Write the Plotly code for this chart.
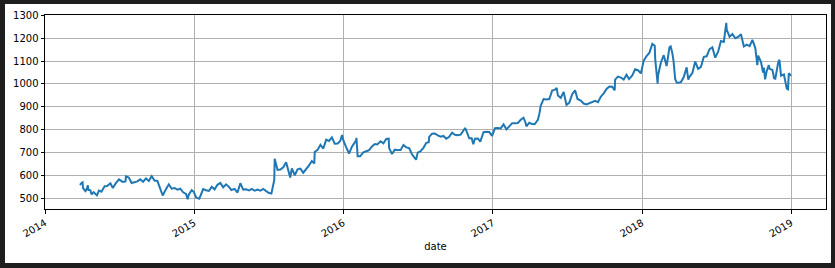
import plotly.graph_objects as go

dates = [
    "2014-03-27", "2014-03-28", "2014-04-01", "2014-04-03", "2014-04-04", "2014-04-07", "2014-04-10",
    "2014-04-11", "2014-04-14", "2014-04-16", "2014-04-17", "2014-04-22", "2014-04-25", "2014-04-30",
    "2014-05-06", "2014-05-08", "2014-05-13", "2014-05-19", "2014-05-27", "2014-06-02", "2014-06-10",
    "2014-06-16", "2014-06-23", "2014-07-01", "2014-07-10", "2014-07-17", "2014-07-18", "2014-07-25",
    "2014-08-01", "2014-08-08", "2014-08-15", "2014-08-22", "2014-08-29", "2014-09-05", "2014-09-12",
    "2014-09-19", "2014-09-26", "2014-10-03", "2014-10-10", "2014-10-16", "2014-10-24", "2014-10-31",
    "2014-11-07", "2014-11-14", "2014-11-21", "2014-11-28", "2014-12-05", "2014-12-12", "2014-12-16",
    "2014-12-19", "2014-12-26", "2014-12-31",
    "2015-01-06", "2015-01-13", "2015-01-16", "2015-01-23", "2015-01-30", "2015-02-06", "2015-02-13",
    "2015-02-20", "2015-02-27", "2015-03-06", "2015-03-13", "2015-03-20", "2015-03-27", "2015-04-02",
    "2015-04-10", "2015-04-17", "2015-04-24", "2015-05-01", "2015-05-08", "2015-05-15", "2015-05-22",
    "2015-05-29", "2015-06-05", "2015-06-12", "2015-06-19", "2015-06-26", "2015-07-02", "2015-07-09",
    "2015-07-16", "2015-07-17", "2015-07-24", "2015-07-31", "2015-08-07", "2015-08-14", "2015-08-21",
    "2015-08-24", "2015-08-28", "2015-09-04", "2015-09-11", "2015-09-18", "2015-09-25", "2015-10-02",
    "2015-10-09", "2015-10-16", "2015-10-22", "2015-10-23", "2015-10-30", "2015-11-06", "2015-11-13",
    "2015-11-20", "2015-11-27", "2015-12-04", "2015-12-11", "2015-12-18", "2015-12-24", "2015-12-29",
    "2015-12-31",
    "2016-01-07", "2016-01-13", "2016-01-15", "2016-01-22", "2016-01-29", "2016-02-01", "2016-02-02",
    "2016-02-05", "2016-02-11", "2016-02-19", "2016-02-26", "2016-03-04", "2016-03-11", "2016-03-18",
    "2016-03-24", "2016-04-01", "2016-04-08", "2016-04-15", "2016-04-21", "2016-04-22", "2016-04-29",
    "2016-05-06", "2016-05-13", "2016-05-20", "2016-05-27", "2016-06-03", "2016-06-10", "2016-06-17",
    "2016-06-24", "2016-06-27", "2016-07-01", "2016-07-08", "2016-07-15", "2016-07-22", "2016-07-28",
    "2016-07-29", "2016-08-05", "2016-08-12", "2016-08-19", "2016-08-26", "2016-09-02", "2016-09-09",
    "2016-09-16", "2016-09-23", "2016-09-30", "2016-10-07", "2016-10-14", "2016-10-21", "2016-10-25",
    "2016-10-28", "2016-11-04", "2016-11-10", "2016-11-14", "2016-11-18", "2016-11-25", "2016-12-01",
    "2016-12-09", "2016-12-16", "2016-12-23", "2016-12-30",
    "2017-01-06", "2017-01-13", "2017-01-20", "2017-01-27", "2017-02-03", "2017-02-10", "2017-02-17",
    "2017-02-24", "2017-03-03", "2017-03-10", "2017-03-17", "2017-03-22", "2017-03-24", "2017-03-31",
    "2017-04-07", "2017-04-13", "2017-04-21", "2017-04-25", "2017-04-28", "2017-05-05", "2017-05-12",
    "2017-05-19", "2017-05-26", "2017-06-02", "2017-06-06", "2017-06-09", "2017-06-16", "2017-06-23",
    "2017-06-30", "2017-07-07", "2017-07-14", "2017-07-21", "2017-07-27", "2017-08-04", "2017-08-11",
    "2017-08-18", "2017-08-25", "2017-09-01", "2017-09-08", "2017-09-15", "2017-09-22", "2017-09-29",
    "2017-10-06", "2017-10-13", "2017-10-20", "2017-10-26", "2017-10-27", "2017-11-03", "2017-11-10",
    "2017-11-17", "2017-11-24", "2017-11-30", "2017-12-08", "2017-12-15", "2017-12-22", "2017-12-29",
    "2018-01-05", "2018-01-12", "2018-01-19", "2018-01-26", "2018-02-01", "2018-02-02", "2018-02-05",
    "2018-02-08", "2018-02-09", "2018-02-16", "2018-02-23", "2018-03-02", "2018-03-09", "2018-03-12",
    "2018-03-16", "2018-03-19", "2018-03-23", "2018-03-27", "2018-04-02", "2018-04-06", "2018-04-13",
    "2018-04-20", "2018-04-24", "2018-04-27", "2018-05-04", "2018-05-11", "2018-05-18", "2018-05-25",
    "2018-06-01", "2018-06-08", "2018-06-15", "2018-06-22", "2018-06-29", "2018-07-06", "2018-07-13",
    "2018-07-20", "2018-07-26", "2018-07-27", "2018-08-03", "2018-08-10", "2018-08-17", "2018-08-24",
    "2018-08-31", "2018-09-07", "2018-09-14", "2018-09-21", "2018-09-28", "2018-10-05", "2018-10-10",
    "2018-10-12", "2018-10-19", "2018-10-24", "2018-10-26", "2018-10-29", "2018-11-02", "2018-11-07",
    "2018-11-09", "2018-11-16", "2018-11-20", "2018-11-23", "2018-11-30", "2018-12-03", "2018-12-07",
    "2018-12-14", "2018-12-21", "2018-12-24", "2018-12-26", "2018-12-31",
]

close = [
    558, 559, 567, 569, 543, 538, 530,
    532, 544, 556, 536, 534, 516, 526,
    515, 512, 533, 528, 552, 553, 565,
    544, 564, 582, 571, 573, 595, 590,
    566, 568, 573, 582, 571, 586, 575,
    596, 577, 575, 544, 511, 539, 560,
    541, 544, 537, 541, 525, 518, 495,
    516, 534, 527,
    502, 497, 508, 539, 534, 531, 549,
    538, 558, 566, 547, 560, 549, 535,
    540, 524, 565, 537, 538, 533, 540,
    532, 537, 532, 540, 531, 523, 520,
    579, 672, 623, 625, 635, 657, 612,
    590, 630, 600, 626, 629, 611, 626,
    643, 662, 651, 702, 711, 733, 717,
    756, 750, 766, 738, 739, 749, 776,
    758,
    726, 701, 695, 725, 742, 752, 764,
    683, 683, 700, 705, 710, 726, 737,
    735, 749, 740, 759, 760, 719, 693,
    712, 710, 710, 732, 722, 719, 692,
    675, 668, 699, 705, 720, 742, 745,
    768, 782, 783, 775, 769, 772, 760,
    768, 786, 777, 775, 778, 799, 807,
    795, 762, 762, 736, 760, 761, 747,
    789, 790, 789, 772,
    806, 807, 805, 823, 801, 814, 828,
    828, 829, 843, 852, 829, 814, 830,
    824, 823, 843, 872, 905, 934, 932,
    934, 971, 975, 983, 949, 939, 965,
    908, 918, 955, 972, 934, 927, 914,
    910, 915, 921, 926, 920, 944, 959,
    978, 989, 988, 972, 1019, 1032, 1028,
    1019, 1040, 1021, 1037, 1064, 1060, 1046,
    1102, 1122, 1137, 1175, 1167, 1111, 1068,
    1001, 1037, 1094, 1126, 1078, 1160, 1164,
    1135, 1100, 1021, 1005, 1006, 1008, 1030,
    1073, 1019, 1031, 1048, 1098, 1066, 1075,
    1119, 1121, 1152, 1160, 1115, 1141, 1188,
    1184, 1268, 1238, 1207, 1219, 1200, 1206,
    1218, 1164, 1172, 1166, 1193, 1157, 1082,
    1124, 1096, 1050, 1071, 1020, 1057, 1082,
    1066, 1061, 1025, 1023, 1094, 1106, 1036,
    1042, 979, 976, 1047, 1035,
]

y_ticks = [500, 600, 700, 800, 900, 1000, 1100, 1200, 1300]
x_ticks = ["2014-01-01", "2015-01-01", "2016-01-01", "2017-01-01", "2018-01-01", "2019-01-01"]
x_labels = ["2014", "2015", "2016", "2017", "2018", "2019"]

fig = go.Figure()
fig.add_trace(go.Scatter(x=dates, y=close, mode="lines",
                         line=dict(color="#1f77b4", width=2), showlegend=False))

axis_common = dict(showline=True, linecolor="black", linewidth=1, mirror=True,
                   ticks="outside", ticklen=3.5, tickcolor="black", tickwidth=0.8,
                   showgrid=True, gridcolor="#b0b0b0", gridwidth=0.8, zeroline=False,
                   tickfont=dict(family="DejaVu Sans", size=10, color="black"))

fig.update_xaxes(type="date", range=["2014-01-01", "2019-03-27"],
                 tickmode="array", tickvals=x_ticks, ticktext=x_labels, tickangle=-30,
                 title=dict(text="date", font=dict(family="DejaVu Sans", size=10, color="black"),
                            standoff=4),
                 **axis_common)
fig.update_yaxes(range=[452, 1302], tickmode="array", tickvals=y_ticks, **axis_common)

fig.update_layout(
    width=835, height=268,
    margin=dict(l=45, r=9, t=15, b=59),
    paper_bgcolor="#1e1e1e", plot_bgcolor="white",
    shapes=[dict(type="rect", xref="paper", yref="paper",
                 x0=(5 - 45) / 781, x1=(831 - 45) / 781,
                 y0=(209 - 263) / 194, y1=(209 - 4) / 194,
                 fillcolor="white", line=dict(width=0), layer="below")],
)

fig.write_html("out.html")
